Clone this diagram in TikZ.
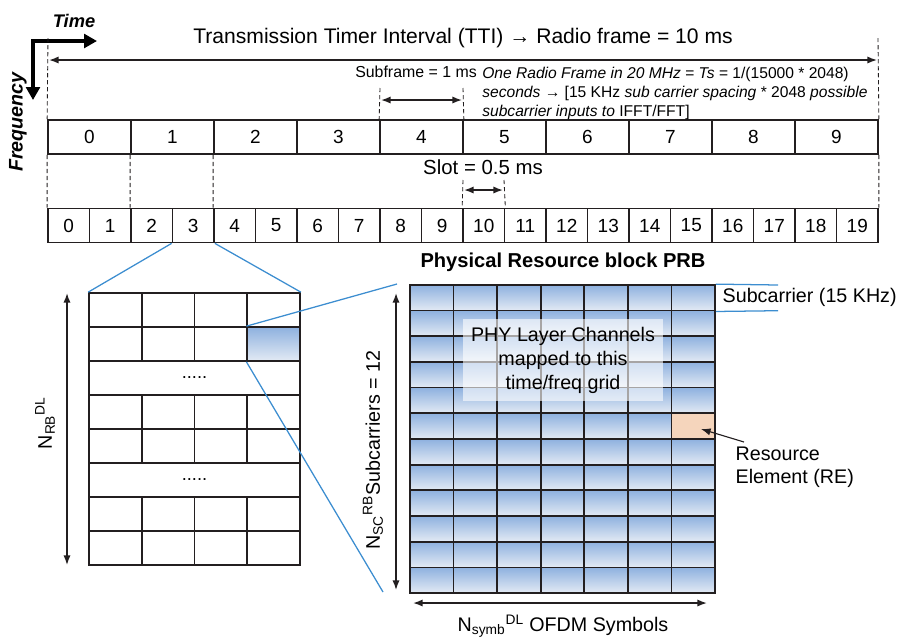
\documentclass[tikz,border=0pt]{standalone}
\usepackage{fontspec}
\setmainfont{Liberation Sans}
\usetikzlibrary{arrows.meta,positioning,calc}
\definecolor{Edge}{HTML}{231F20}
\definecolor{LinkBlue}{HTML}{3C8DD0}
\definecolor{CellTop}{HTML}{8EB1DF}
\definecolor{CellBot}{HTML}{E3EAF4}
\definecolor{RePeach}{HTML}{F5D5BC}
\newcommand{\fs}[1]{\fontsize{#1}{1.2\dimexpr #1pt\relax}\selectfont}

\begin{document}
\begin{tikzpicture}[
  x=0.025cm,y=-0.025cm,
  sfbox/.style={draw=Edge,line width=1.2pt,minimum width=2.075cm,minimum height=0.85cm,inner sep=0pt,font=\fs{13.5}},
  slotbox/.style={sfbox,minimum width=1.0375cm},
  rbcell/.style={draw=Edge,line width=1.2pt,minimum width=1.319cm,minimum height=0.85cm,inner sep=0pt},
  rbwide/.style={rbcell,minimum width=5.275cm,font=\fs{13}},
  cellline/.style={draw=Edge,line width=1.2pt,minimum width=1.089cm,minimum height=0.6417cm,inner sep=0pt},
  recell/.style={cellline,top color=CellTop,bottom color=CellBot},
  dimarrow/.style={{Latex[length=2.4mm,width=1.8mm]}-{Latex[length=2.4mm,width=1.8mm]},line width=1.1pt,draw=Edge},
  guide/.style={draw=Edge,line width=0.6pt,dash pattern=on 3pt off 2pt},
  zoomline/.style={draw=LinkBlue,line width=0.9pt},
  lbl/.style={inner sep=1pt,font=\fs{14}}
]
\useasboundingbox (0,0) rectangle (919,640);

% time / frequency axes
\coordinate (origin) at (33,41);
\coordinate (tEnd) at (97,41);
\coordinate (fEnd) at (33,100);
\draw[{Triangle[length=3.2mm,width=3.4mm]}-{Triangle[length=3.2mm,width=3.4mm]},line width=2.2pt,line join=miter] (tEnd) -- (origin) -- (fEnd);
\node[lbl,font=\bfseries\itshape\fs{13}] (timelbl) at (74,21) {Time};
\node[lbl,font=\bfseries\itshape\fs{14}, rotate=90] (freqlbl) at (18,122) {Frequency};

% subframes and slots
\foreach \i in {0,...,9} \node[sfbox] (sf\i) at ({89.5+83*\i},137) {\i};
\foreach \i in {0,...,19} \node[slotbox] (sl\i) at ({68.75+41.5*\i},225.5) {\i};

% radio frame
\coordinate (ttiL) at (48,38);
\coordinate (ttiR) at (878,38);
\coordinate (ttiA) at (49,60);
\coordinate (ttiB) at (877,60);
\draw[guide] (ttiL) -- (sf0.north west);
\draw[guide] (ttiR) -- (sf9.north east);
\draw[dimarrow] (ttiA) -- (ttiB);
\node[lbl,font=\fs{15}] (ttilbl) at (463,38) {Transmission Timer Interval (TTI) → Radio frame = 10 ms};

% subframe = 1 ms
\coordinate (subA) at (380,88);
\coordinate (subB) at (463,88);
\coordinate (subL) at (381,100);
\coordinate (subR) at (462,100);
\draw[guide] (subA) -- (sf4.north west);
\draw[guide] (subB) -- (sf4.north east);
\draw[dimarrow] (subL) -- (subR);
\node[inner sep=0pt,anchor=base east,font=\fs{11.3}] (sublbl) at (477,77) {Subframe = 1 ms};
\node[inner sep=0pt,anchor=north west,align=left,font=\fontsize{11.1}{13.6}\selectfont] (tslbl) at (482,66.5)
  {\itshape One Radio Frame in 20 MHz = Ts = \upshape 1/(15000 * 2048)\\
   \itshape seconds \upshape → [15 KHz \itshape sub carrier spacing \upshape * 2048 \itshape possible\\
   \itshape subcarrier inputs to \upshape IFFT/FFT]};

% slot = 0.5 ms
\draw[guide] (sf0.south west) -- (sl0.north west);
\draw[guide] (sf1.south west) -- (sl2.north west);
\draw[guide] (sf2.south west) -- (sl4.north west);
\draw[guide] (sf9.south east) -- (sl19.north east);
\coordinate (slotA) at (463,180);
\coordinate (slotB) at (504,180);
\coordinate (slotL) at (464,190);
\coordinate (slotR) at (503,190);
\draw[guide] (slotA) -- (sl10.north west);
\draw[guide] (slotB) -- (sl10.north east);
\draw[dimarrow] (slotL) -- (slotR);
\node[lbl,font=\fs{14.5}] (slotlbl) at (483,167) {Slot = 0.5 ms};

% resource blocks over the bandwidth
\foreach \r in {0,1,3,4,6,7}
  \foreach \c in {0,...,3}
    \node[rbcell] (rb\r\c) at ({115.4+52.75*\c},{310+34*\r}) {};
\foreach \r in {2,5} \node[rbwide] (rbdots\r) at (194.5,{310+34*\r}) {.....};
\node[rbcell,top color=CellTop,bottom color=CellBot] (rbsel) at (rb13) {};
\coordinate (nrbT) at (67,293);
\coordinate (nrbB) at (67,565);
\draw[dimarrow] (nrbT) -- (nrbB);
\node[lbl,rotate=90] (nrblbl) at (45,423) {N\textsubscript{RB}\textsuperscript{DL}};

% physical resource block
\node[lbl,font=\bfseries\fs{14.3}] (prbttl) at (563,262) {Physical Resource block PRB};
\foreach \r in {0,...,11}
  \foreach \c in {0,...,6}
    \node[recell] (re-\r-\c) at ({431.8+43.57*\c},{297.8+25.67*\r}) {};
\node[cellline,fill=RePeach] (resel) at (re-5-6) {};
\node[fill=white,fill opacity=0.6,text opacity=1,minimum width=5cm,minimum height=2.05cm,inner sep=0pt,align=center,font=\fontsize{14}{17}\selectfont] (phy) at (563,360)
  {PHY Layer Channels\\mapped to this\\time/freq grid};

\coordinate (scA) at (778,285);
\coordinate (scB) at (778,310.7);
\draw[zoomline] (re-0-6.north east) -- (scA);
\draw[zoomline] (re-0-6.south east) -- (scB);
\node[lbl,anchor=west] (sclbl) at (721,297) {Subcarrier (15 KHz)};

\node[lbl,anchor=north west,align=left,font=\fontsize{14}{16.5}\selectfont] (relbl) at (734,445) {Resource\\Element (RE)};
\coordinate (reTail) at (744,442);
\coordinate (reTip) at (701,429);
\draw[-{Latex[length=2.4mm,width=1.8mm]},line width=0.8pt,draw=Edge] (reTail) -- (reTip);

\coordinate (nscT) at (396,293);
\coordinate (nscB) at (396,590);
\draw[dimarrow] (nscT) -- (nscB);
\node[lbl,rotate=90] (nsclbl) at (373,450) {N\textsubscript{SC}\textsuperscript{RB}Subcarriers = 12};

\coordinate (nsyL) at (413,603);
\coordinate (nsyR) at (707,603);
\draw[dimarrow] (nsyL) -- (nsyR);
\node[lbl] (nsylbl) at (563,626) {N\textsubscript{symb}\textsuperscript{DL} OFDM Symbols};

% zoom lines
\coordinate (prbA) at (397,284);
\coordinate (prbB) at (383,592);
\draw[zoomline] (sl3.south west) -- (rb00.north west);
\draw[zoomline] (sl3.south east) -- (rb03.north east);
\draw[zoomline] (rbsel.north west) -- (prbA);
\draw[zoomline] (rbsel.south west) -- (prbB);
\end{tikzpicture}
\end{document}
